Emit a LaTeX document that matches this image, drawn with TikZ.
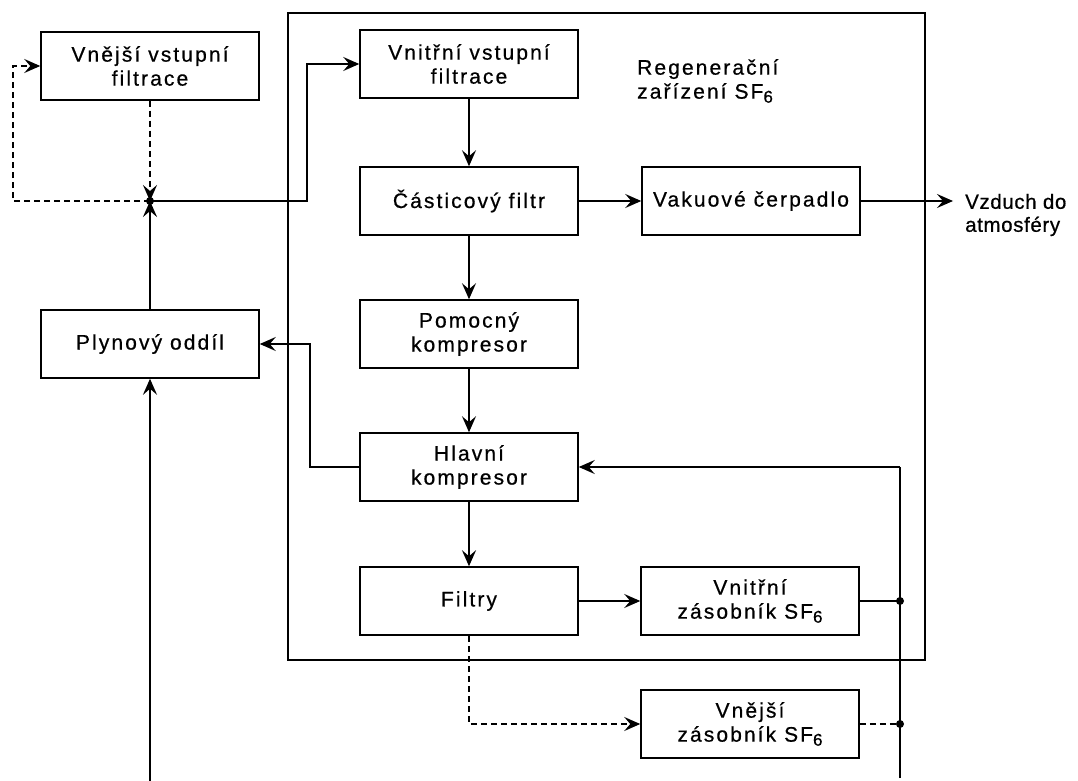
\documentclass[tikz,border=0pt]{standalone}
\usepackage{fontspec}
\setmainfont{Liberation Sans}[LetterSpace=10,FakeBold=0.6]
\usetikzlibrary{arrows.meta}
\newcommand{\sfsix}{SF\raisebox{-4pt}{\fontsize{17}{17}\selectfont 6}}
\begin{document}
\begin{tikzpicture}[x=1pt,y=-1pt,
  box/.style={draw, line width=1.5pt, minimum width=218pt, minimum height=68pt, align=center, inner sep=2pt, font=\fontsize{21}{24}\selectfont},
  lbl/.style={align=left, inner sep=0pt, anchor=west, font=\fontsize{21}{24}\selectfont},
  ln/.style={line width=1.5pt},
  thk/.style={line width=2.4pt},
  dsh/.style={line width=1.5pt, dash pattern=on 6pt off 4pt},
  arr/.style={-{Stealth[length=16pt,width=14pt,inset=6pt]}},
  jdot/.style={circle, fill, inner sep=0pt, minimum size=8pt}]
\useasboundingbox (0,0) rectangle (1078,781);
% frame of the regeneration device
\draw[ln] (288,13) rectangle (925,660);
% boxes
\node[box] (ext) at (150,66) {Vnější vstupní\\filtrace};
\node[box] (intf) at (469,64) {Vnitřní vstupní\\filtrace};
\node[box] (cast) at (469,201) {Částicový filtr};
\node[box] (vak) at (751,201) {Vakuové čerpadlo};
\node[box] (pom) at (469,334) {Pomocný\\kompresor};
\node[box] (plyn) at (150,344) {Plynový oddíl};
\node[box] (hlav) at (469,467) {Hlavní\\kompresor};
\node[box] (filt) at (469,601) {Filtry};
\node[box] (vzas) at (750,601) {Vnitřní\\zásobník \sfsix};
\node[box] (ezas) at (750,724) {Vnější\\zásobník \sfsix};
% labels
\node[lbl] (reg) at (637,81) {Regenerační\\zařízení \sfsix};
\node[lbl, font=\addfontfeature{LetterSpace=3}\fontsize{20.5}{23}\selectfont] (atm) at (965,215) {Vzduch do\\atmosféry};
% coordinates
\coordinate (j) at (150,201);
\coordinate (dl) at (13,201);
\coordinate (sr) at (307,201);
\coordinate (bl) at (150,781);
\coordinate (air) at (953,201);
\coordinate (hl) at (310,467);
\coordinate (rt) at (900,467);
\coordinate (rb) at (900,778);
\coordinate (r1) at (900,601);
\coordinate (r2) at (900,724);
% connectors
\draw[dsh,arr] (ext.south) -- (j);
\draw[thk,arr] (plyn.north) -- (j);
\draw[dsh,arr] (j) -- (dl) |- (ext.west);
\draw[ln,arr] (j) -- (sr) |- (intf.west);
\draw[thk,arr] (bl) -- (plyn.south);
\draw[ln,arr] (intf.south) -- (cast.north);
\draw[ln,arr] (cast.east) -- (vak.west);
\draw[ln,arr] (vak.east) -- (air);
\draw[ln,arr] (cast.south) -- (pom.north);
\draw[ln,arr] (pom.south) -- (hlav.north);
\draw[ln,arr] (hlav.west) -- (hl) |- (plyn.east);
\draw[thk,arr] (hlav.south) -- (filt.north);
\draw[ln,arr] (filt.east) -- (vzas.west);
\draw[line width=1.9pt] (rb) -- (rt);
\draw[ln,arr] (rt) -- (hlav.east);
\draw[ln] (vzas.east) -- (r1);
\draw[dsh] (ezas.east) -- (r2);
\draw[dsh,arr] (filt.south) |- (ezas.west);
\node[jdot] (d0) at (j) {};
\node[jdot] (d1) at (r1) {};
\node[jdot] (d2) at (r2) {};
\end{tikzpicture}
\end{document}
